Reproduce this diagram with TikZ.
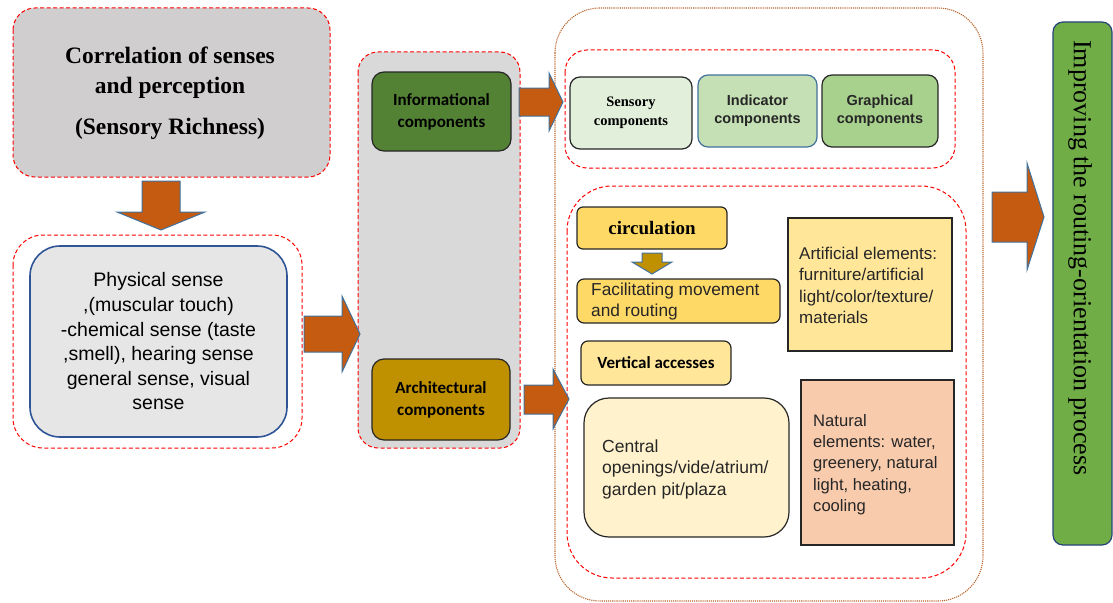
\documentclass[tikz,border=0pt]{standalone}
\usepackage{fontspec}
\setmainfont{Liberation Serif}
\newfontfamily\arialf{Liberation Sans}
\newfontfamily\calib{Carlito}
\definecolor{arroworange}{HTML}{C55A11}
\definecolor{arrowedge}{HTML}{41719C}
\definecolor{titlegray}{HTML}{D0CECE}
\definecolor{lightgray}{HTML}{E7E6E6}
\definecolor{midgray}{HTML}{D9D9D9}
\definecolor{darkblue}{HTML}{2F5597}
\definecolor{infogreen}{HTML}{548235}
\definecolor{archgold}{HTML}{BF9000}
\definecolor{sensfill}{HTML}{E2EFDA}
\definecolor{indfill}{HTML}{C5E0B4}
\definecolor{graphfill}{HTML}{A9D18E}
\definecolor{gold1}{HTML}{FFD966}
\definecolor{gold2}{HTML}{FFE699}
\definecolor{gold3}{HTML}{FFF2CC}
\definecolor{peach}{HTML}{F8CBAD}
\definecolor{finalgreen}{HTML}{70AD47}
\definecolor{dotbrown}{HTML}{B8632A}
\begin{document}
\begin{tikzpicture}[x=1pt,y=-1pt,
  reddash/.style={draw=red, dash pattern=on 4pt off 2.5pt, line width=1pt},
  box/.style={draw=black!85, line width=1.2pt, inner sep=0pt},
  blockarrow/.style={fill=arroworange, draw=arrowedge, line width=1pt, line join=miter},
  lefttext/.style={anchor=west, align=left, inner sep=0pt, text=black!85},
]
\useasboundingbox (0,0) rectangle (1113,602);
% containers
\draw[reddash, fill=titlegray, rounded corners=22pt] (13,8) rectangle (330,177);
\draw[reddash, rounded corners=30pt] (13,235) rectangle (302,448);
\draw[reddash, fill=midgray, rounded corners=20pt] (358,52) rectangle (520,448);
\draw[dotbrown, densely dotted, line width=1.1pt, rounded corners=45pt] (555,8) rectangle (983,601);
\draw[reddash, rounded corners=22pt] (565,50) rectangle (955,168);
\draw[reddash, rounded corners=45pt] (567,186) rectangle (966,578);

% title
\node[align=center, font=\bfseries\fontsize{23.5}{30}\selectfont] (title) at (170,93)
  {Correlation of senses\\and perception\\[11pt](Sensory Richness)};

% physical sense
\node[draw=darkblue, fill=lightgray, line width=1.6pt, rounded corners=30pt,
  minimum width=257pt, minimum height=191pt, inner sep=0pt, align=center,
  font=\arialf\fontsize{19.5}{24.6}\selectfont] (phys) at (158.5,341.5)
  {Physical sense\\,(muscular touch)\\-chemical sense (taste\\,smell), hearing sense\\general sense, visual\\sense};

% informational / architectural
\node[box, fill=infogreen, rounded corners=12pt, minimum width=139pt, minimum height=79pt,
  align=center, font=\calib\bfseries\fontsize{17}{22}\selectfont] (info) at (441.5,111.5)
  {Informational\\components};
\node[box, fill=archgold, rounded corners=12pt, minimum width=138pt, minimum height=81pt,
  align=center, font=\calib\bfseries\fontsize{17}{22}\selectfont] (arch) at (441,399.5)
  {Architectural\\components};

% top three
\node[box, fill=sensfill, rounded corners=10pt, minimum width=122pt, minimum height=72pt,
  align=center, font=\bfseries\fontsize{14.5}{19}\selectfont] (sens) at (631,113)
  {Sensory\\components};
\node[draw=arrowedge, line width=1.2pt, inner sep=0pt, fill=indfill, rounded corners=10pt, minimum width=119pt, minimum height=72pt,
  align=center, font=\arialf\bfseries\fontsize{14.5}{18.5}\selectfont, text=black!85] (ind) at (757.5,111)
  {Indicator\\components};
\node[box, fill=graphfill, rounded corners=10pt, minimum width=116pt, minimum height=72pt,
  align=center, font=\arialf\bfseries\fontsize{14.5}{18.5}\selectfont, text=black!85] (graph) at (880,111)
  {Graphical\\components};

% lower content
\node[box, fill=gold1, rounded corners=6pt, minimum width=150pt, minimum height=42pt,
  font=\bfseries\fontsize{19}{22}\selectfont] (circ) at (652,228) {circulation};

\node[box, fill=gold1, rounded corners=7pt, minimum width=203pt, minimum height=44pt] (facil) at (678.5,301) {};
\node[lefttext, font=\arialf\fontsize{17.3}{21}\selectfont] (faciltxt) at (591,302)
  {Facilitating movement\\and routing};

\node[box, fill=gold2, minimum width=164pt, minimum height=133pt] (artif) at (870,284.5) {};
\node[lefttext, font=\arialf\fontsize{17}{21.3}\selectfont] (artiftxt) at (799,285.5)
  {Artificial elements:\\furniture/artificial\\light/color/texture/\\materials};

\node[box, fill=gold2, rounded corners=7pt, minimum width=150pt, minimum height=44pt,
  font=\calib\bfseries\fontsize{17}{21}\selectfont] (vert) at (656,363) {Vertical accesses};

\node[box, fill=gold3, rounded corners=25pt, minimum width=205pt, minimum height=139pt] (central) at (686.5,467.5) {};
\node[lefttext, font=\arialf\fontsize{17.5}{21.5}\selectfont] (centraltxt) at (602,469)
  {Central\\openings/vide/atrium/\\garden pit/plaza};

\node[box, fill=peach, minimum width=153pt, minimum height=165pt] (natur) at (877.5,462.5) {};
\node[lefttext, font=\arialf\fontsize{16.6}{21.3}\selectfont] (naturtxt) at (813,464.5)
  {Natural\\elements: water,\\greenery, natural\\light, heating,\\cooling};

% final
\node[draw=darkblue!80!black, fill=finalgreen, line width=1.2pt, rounded corners=10pt,
  minimum width=59pt, minimum height=523pt, inner sep=0pt] (final) at (1082.5,283.5) {};
\node[rotate=-90, font=\fontsize{26}{28}\selectfont] (finaltxt) at (1080,258)
  {Improving the routing-orientation process};

% block arrows
\draw[blockarrow] (142,181)--(180,181)--(180,212)--(205,212)--(161,230)--(117,212)--(142,212)--cycle;
\draw[blockarrow] (304,316)--(342,316)--(342,296)--(360,334)--(342,372)--(342,352)--(304,352)--cycle;
\draw[blockarrow] (519,88)--(549,88)--(549,73)--(563,102)--(549,131)--(549,116)--(519,116)--cycle;
\draw[blockarrow] (524,385)--(553,385)--(553,369)--(569,399)--(553,429)--(553,414)--(524,414)--cycle;
\draw[blockarrow, fill=archgold] (642,253)--(662,253)--(662,262)--(672,262)--(652,274)--(632,262)--(642,262)--cycle;
\draw[blockarrow] (992,192)--(1027,192)--(1027,163)--(1044,217)--(1027,270)--(1027,242)--(992,242)--cycle;
\end{tikzpicture}
\end{document}
